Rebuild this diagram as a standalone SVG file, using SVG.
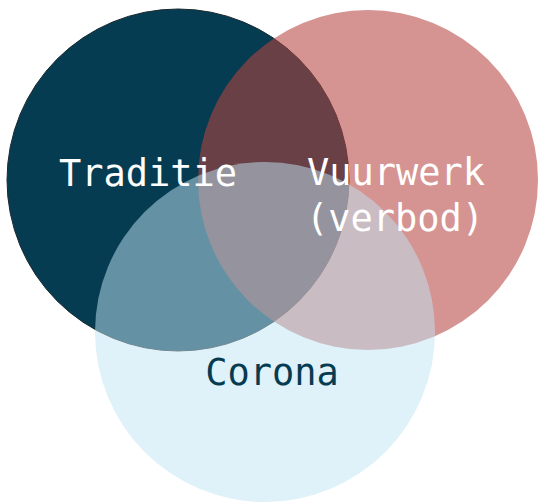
<svg xmlns="http://www.w3.org/2000/svg" width="539" height="504" viewBox="0 0 539 504">
  <style>
    .lbl { font-family: "DejaVu Sans Mono", "Liberation Mono", monospace; font-size: 37px; text-anchor: middle; }
    .w { fill: #ffffff; }
    .d { fill: #063c51; }
  </style>
  <rect width="539" height="504" fill="#ffffff"/>
  <g id="traditie">
    <circle cx="178" cy="180" r="171" fill="#063c51" stroke="#1a2a30" stroke-width="1"/>
  </g>
  <g id="vuurwerk">
    <circle cx="368" cy="180" r="170" fill="#b5433e" fill-opacity="0.57"/>
  </g>
  <g id="corona">
    <circle cx="265" cy="332" r="170" fill="#c0e3f3" fill-opacity="0.51"/>
  </g>
  <g id="labels">
    <text class="lbl w" x="148" y="186">Traditie</text>
    <text class="lbl w" x="396" y="185">Vuurwerk</text>
    <text class="lbl w" x="395" y="231">(verbod)</text>
    <text class="lbl d" x="272" y="385">Corona</text>
  </g>
</svg>
